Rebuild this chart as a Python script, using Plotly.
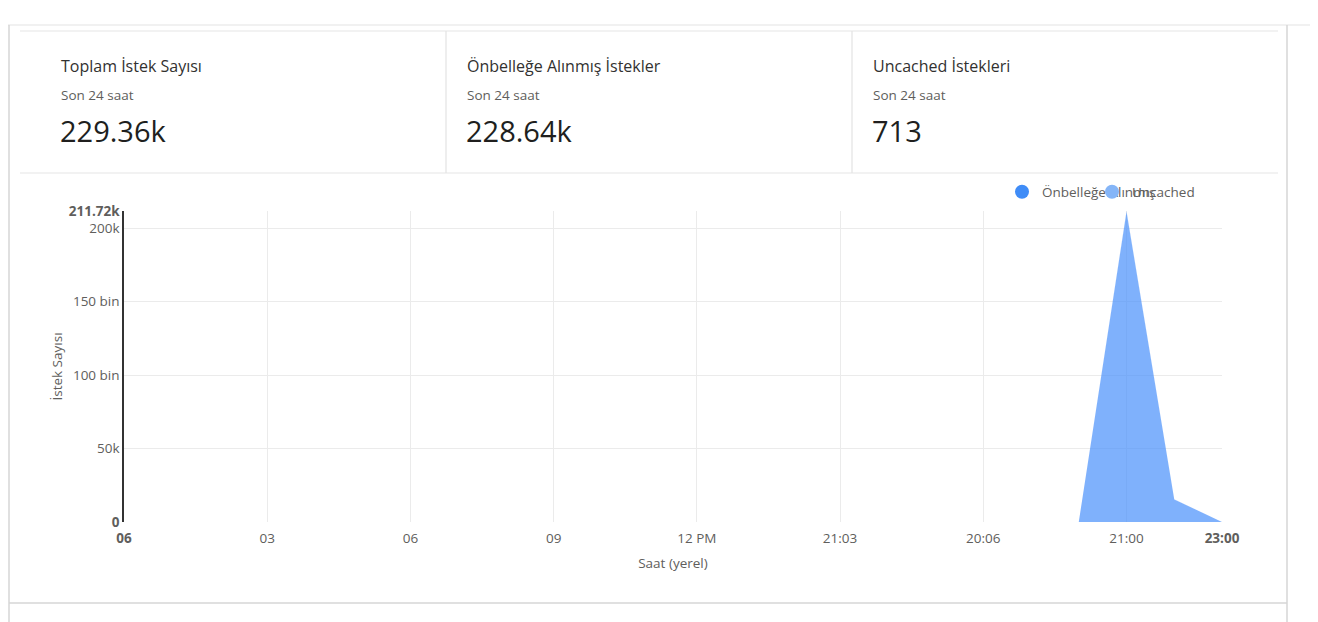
import plotly.graph_objects as go

# hourly request counts for the last 24 hours (hour of day 0..23)
hours = list(range(24))
cached = [0] * 21 + [211050, 15400, 0]
uncached = [0] * 21 + [670, 40, 3]

x_tickvals = [0, 3, 6, 9, 12, 15, 18, 21, 23]
x_ticktext = ["<b>06</b>", "03", "06", "09", "12 PM", "21:03", "20:06", "21:00", "<b>23:00</b>"]
y_tickvals = [0, 50000, 100000, 150000, 200000, 211720]
y_ticktext = ["<b>0</b>", "50k", "100 bin", "150 bin", "200k", "<b>211.72k</b>"]

card_titles = ["Toplam İstek Sayısı", "Önbelleğe Alınmış İstekler", "Uncached İstekleri"]
card_values = ["229.36k", "228.64k", "713"]
card_sub = "Son 24 saat"

# screen pixels (the page body has an 8px margin)
OFF = 8
SW, SH = 1318, 622
L, R, T, B = 124, 1222, 211, 522
FONT = "Open Sans"


def px(x):
    return (x - L) / (R - L)


def py(y):
    return (B - y) / (B - T)


fig = go.Figure()

fig.add_trace(go.Scatter(x=hours, y=cached, name="Önbelleğe Alınmış", stackgroup="one",
                         mode="lines", line=dict(width=0, color="rgba(66,140,250,0.68)"),
                         fillcolor="rgba(66,140,250,0.68)", showlegend=False, hoverinfo="skip"))
fig.add_trace(go.Scatter(x=hours, y=uncached, name="Uncached", stackgroup="one",
                         mode="lines", line=dict(width=0, color="rgba(130,180,250,0.7)"),
                         fillcolor="rgba(130,180,250,0.7)", showlegend=False, hoverinfo="skip"))

# legend markers, one legend box each so the entries can overlap like the original
fig.add_trace(go.Scatter(x=[None], y=[None], mode="markers", name="Önbelleğe Alınmış",
                         marker=dict(size=14, color="#3f8cf7"), legend="legend"))
fig.add_trace(go.Scatter(x=[None], y=[None], mode="markers", name="Uncached",
                         marker=dict(size=14, color="#85b5f7"), legend="legend2"))

line_col = "#dcdcdc"
shapes = []


def hline(y, x0, x1, c=line_col, w=1.2):
    shapes.append(dict(type="line", xref="paper", yref="paper", x0=px(x0), x1=px(x1),
                       y0=py(y), y1=py(y), line=dict(color=c, width=w)))


def vline(x, y0, y1, c=line_col, w=1.2):
    shapes.append(dict(type="line", xref="paper", yref="paper", x0=px(x), x1=px(x),
                       y0=py(y0), y1=py(y1), line=dict(color=c, width=w)))


hline(25, 0, SW, "#e3e3e3")
vline(9, 25, SH, "#d6d6d6", 1.5)
vline(1287, 25, SH, "#d6d6d6", 1.5)
hline(31, 20, 1278, "#e6e6e6")
hline(173, 20, 1278, "#e6e6e6")
vline(446, 31, 173, "#e3e3e3")
vline(852, 31, 173, "#e3e3e3")
hline(603, 9, 1287, "#d6d6d6", 1.5)

annotations = []
for i, (t, v) in enumerate(zip(card_titles, card_values)):
    x0 = 59 + i * 406
    annotations.append(dict(text=t, x=px(x0), y=py(66), xref="paper", yref="paper",
                            xanchor="left", yanchor="middle", showarrow=False,
                            font=dict(family=FONT, size=16, color="#323130")))
    annotations.append(dict(text=card_sub, x=px(x0), y=py(95), xref="paper", yref="paper",
                            xanchor="left", yanchor="middle", showarrow=False,
                            font=dict(family=FONT, size=13.5, color="#605e5c")))
    annotations.append(dict(text=v, x=px(x0 - 1), y=py(131), xref="paper", yref="paper",
                            xanchor="left", yanchor="middle", showarrow=False,
                            font=dict(family=FONT, size=29, color="#201f1e")))

legend_style = dict(orientation="h", xanchor="left", yanchor="middle", itemwidth=30,
                    font=dict(family=FONT, size=13.5, color="#605e5c"),
                    bgcolor="rgba(0,0,0,0)")

fig.update_layout(
    width=SW - OFF, height=SH - OFF, autosize=False,
    margin=dict(l=L - OFF, r=SW - R, t=T - OFF, b=SH - B),
    paper_bgcolor="white", plot_bgcolor="white",
    font=dict(family=FONT, size=13.5, color="#605e5c"),
    shapes=shapes, annotations=annotations,
    hovermode=False,
    legend=dict(x=px(1002), y=py(192), **legend_style),
    legend2=dict(x=px(1092), y=py(192), **legend_style),
    xaxis=dict(range=[0, 23], tickvals=x_tickvals, ticktext=x_ticktext, showgrid=True,
               gridcolor="#ebebeb", gridwidth=1, zeroline=False, showline=False,
               ticks="", ticklabelstandoff=6, tickfont=dict(size=13.5, color="#605e5c"),
               title=dict(text="Saat (yerel)", font=dict(size=13.5, color="#605e5c"), standoff=13)),
    yaxis=dict(range=[0, 211720], tickvals=y_tickvals, ticktext=y_ticktext, showgrid=True,
               gridcolor="#ebebeb", gridwidth=1, zeroline=False, showline=True,
               linecolor="#333333", linewidth=1.5, ticks="",
               tickfont=dict(size=13.5, color="#605e5c"),
               title=dict(text="İstek Sayısı", font=dict(size=13.5, color="#605e5c"), standoff=3)),
)

fig.write_html("out.html")
